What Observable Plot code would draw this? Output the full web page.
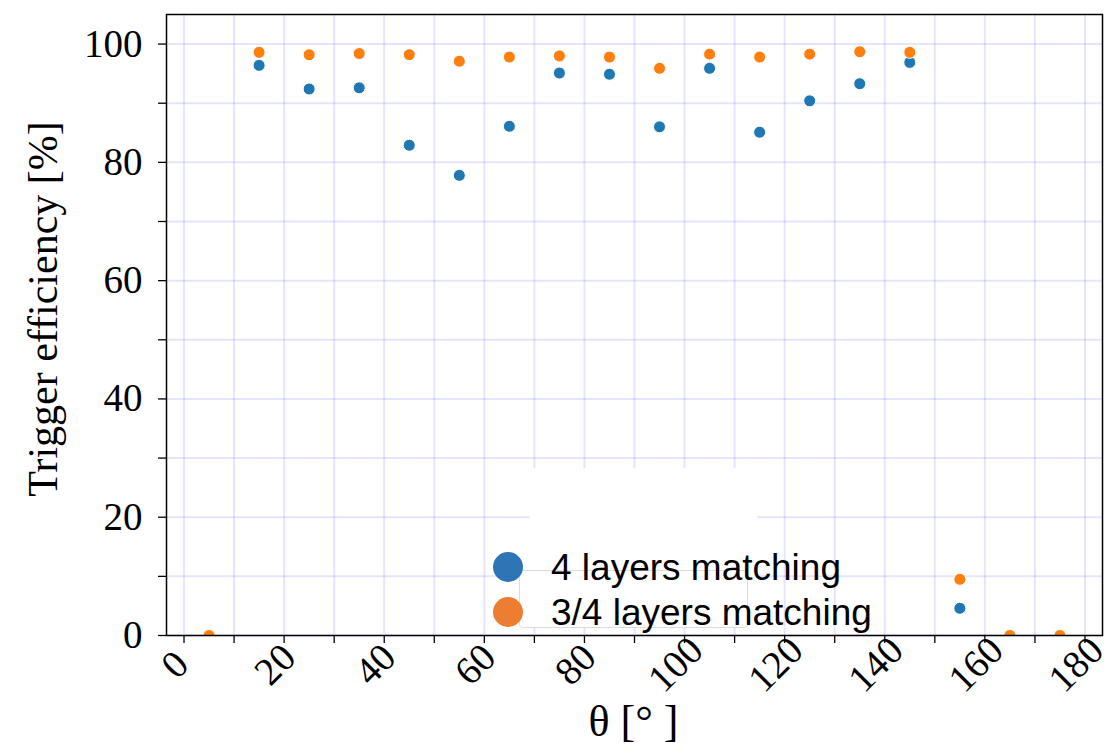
<!DOCTYPE html>
<html>
<head>
<meta charset="utf-8">
<script src="https://cdn.jsdelivr.net/npm/d3@7"></script>
<script src="https://cdn.jsdelivr.net/npm/@observablehq/plot@0.6"></script>
<style>
  html, body { margin: 0; padding: 0; background: #fff; }
  #wrap { position: relative; width: 1117px; height: 755px; }
  #legend { position: absolute; left: 0; top: 0; pointer-events: none; }
</style>
</head>
<body>
<div id="wrap"></div>
<script>
// ---- data ----
const theta = [5, 15, 25, 35, 45, 55, 65, 75, 85, 95, 105, 115, 125, 135, 145, 155, 165, 175];
const eff4 = [0, 96.4, 92.4, 92.6, 82.9, 77.8, 86.1, 95.1, 94.9, 86.0, 95.9, 85.1, 90.4, 93.3, 96.9, 4.6, 0, 0];
const eff34 = [0, 98.6, 98.2, 98.4, 98.2, 97.1, 97.8, 98.0, 97.8, 95.9, 98.3, 97.8, 98.3, 98.7, 98.6, 9.5, 0, 0];
const seriesNames = ["4 layers matching", "3/4 layers matching"];
const xTicks = d3.range(0, 181, 10);
const xTickLabels = d3.range(0, 181, 20);
const yTicks = d3.range(0, 101, 10);
const xLabel = "θ [° ]";
const yLabel = "Trigger efficiency [%]";

const rows4 = theta.map((t, i) => ({theta: t, eff: eff4[i]}));
const rows34 = theta.map((t, i) => ({theta: t, eff: eff34[i]}));

const serif = "Liberation Serif, Times New Roman, serif";

const chart = Plot.plot({
  width: 1117,
  height: 755,
  marginLeft: 166,
  marginRight: 15,
  marginTop: 14,
  marginBottom: 120,
  style: {fontFamily: serif, fontSize: "38px", color: "black", background: "white"},
  x: {domain: [-3.5, 183.5], label: null},
  y: {domain: [0, 105], label: null},
  marks: [
    Plot.gridX(xTicks, {stroke: "#0000ff", strokeOpacity: 0.1, strokeWidth: 2}),
    Plot.gridY(yTicks, {stroke: "#0000ff", strokeOpacity: 0.1, strokeWidth: 2}),
    Plot.axisX({ticks: xTicks, tickSize: 8, tickFormat: () => "", label: null, stroke: "black", strokeWidth: 1.3}),
    Plot.text(xTickLabels, {x: d => d, frameAnchor: "bottom", dy: 38, rotate: -45, textAnchor: "middle", text: d => String(d), fontSize: 39, fontFamily: serif, fill: "black"}),
    Plot.axisY({ticks: yTicks, tickSize: 8, tickPadding: 16, label: null, tickFormat: d => d % 20 === 0 ? String(d) : "", stroke: "black", strokeWidth: 1.3, fontSize: 39, fontFamily: serif}),
    Plot.dot(rows4, {x: "theta", y: "eff", r: 6, fill: "#1f77b4", stroke: "white", strokeWidth: 1, clip: true}),
    Plot.dot(rows34, {x: "theta", y: "eff", r: 6, fill: "#ff7f0e", stroke: "white", strokeWidth: 1, clip: true}),
    Plot.frame({stroke: "black", strokeWidth: 1.5}),
    Plot.text([yLabel], {frameAnchor: "left", textAnchor: "middle", lineAnchor: "middle", dx: -123, dy: -16, rotate: -90, text: d => d, fontSize: 42, fontFamily: serif, fill: "black"}),
    Plot.text([xLabel], {frameAnchor: "bottom", textAnchor: "middle", dx: -1, dy: 100, text: d => d, fontSize: 44, fontFamily: serif, fill: "black"})
  ]
});
const wrap = document.getElementById("wrap");
wrap.appendChild(chart);

// ---- legend overlay (inside the plot area) ----
const ns = "http://www.w3.org/2000/svg";
const lg = document.createElementNS(ns, "svg");
lg.setAttribute("id", "legend");
lg.setAttribute("width", 1117);
lg.setAttribute("height", 755);
function el(tag, attrs, text) {
  const e = document.createElementNS(ns, tag);
  for (const k in attrs) e.setAttribute(k, attrs[k]);
  if (text != null) e.textContent = text;
  lg.appendChild(e);
  return e;
}
el("rect", {x: 530, y: 468, width: 227, height: 160, fill: "white"});
el("rect", {x: 519.5, y: 570.5, width: 228, height: 57, rx: 3, fill: "white", stroke: "#dcdcdc", "stroke-width": 1});
const legendColors = ["#2e75b6", "#ed7d31"];
seriesNames.forEach((name, i) => {
  el("circle", {cx: 508, cy: 567 + i * 45, r: 15, fill: legendColors[i]});
  el("text", {x: 551, y: 580 + i * 45, "font-family": "Liberation Sans, Arial, sans-serif", "font-size": 37, fill: "black"}, name);
});
wrap.appendChild(lg);
</script>
</body>
</html>
